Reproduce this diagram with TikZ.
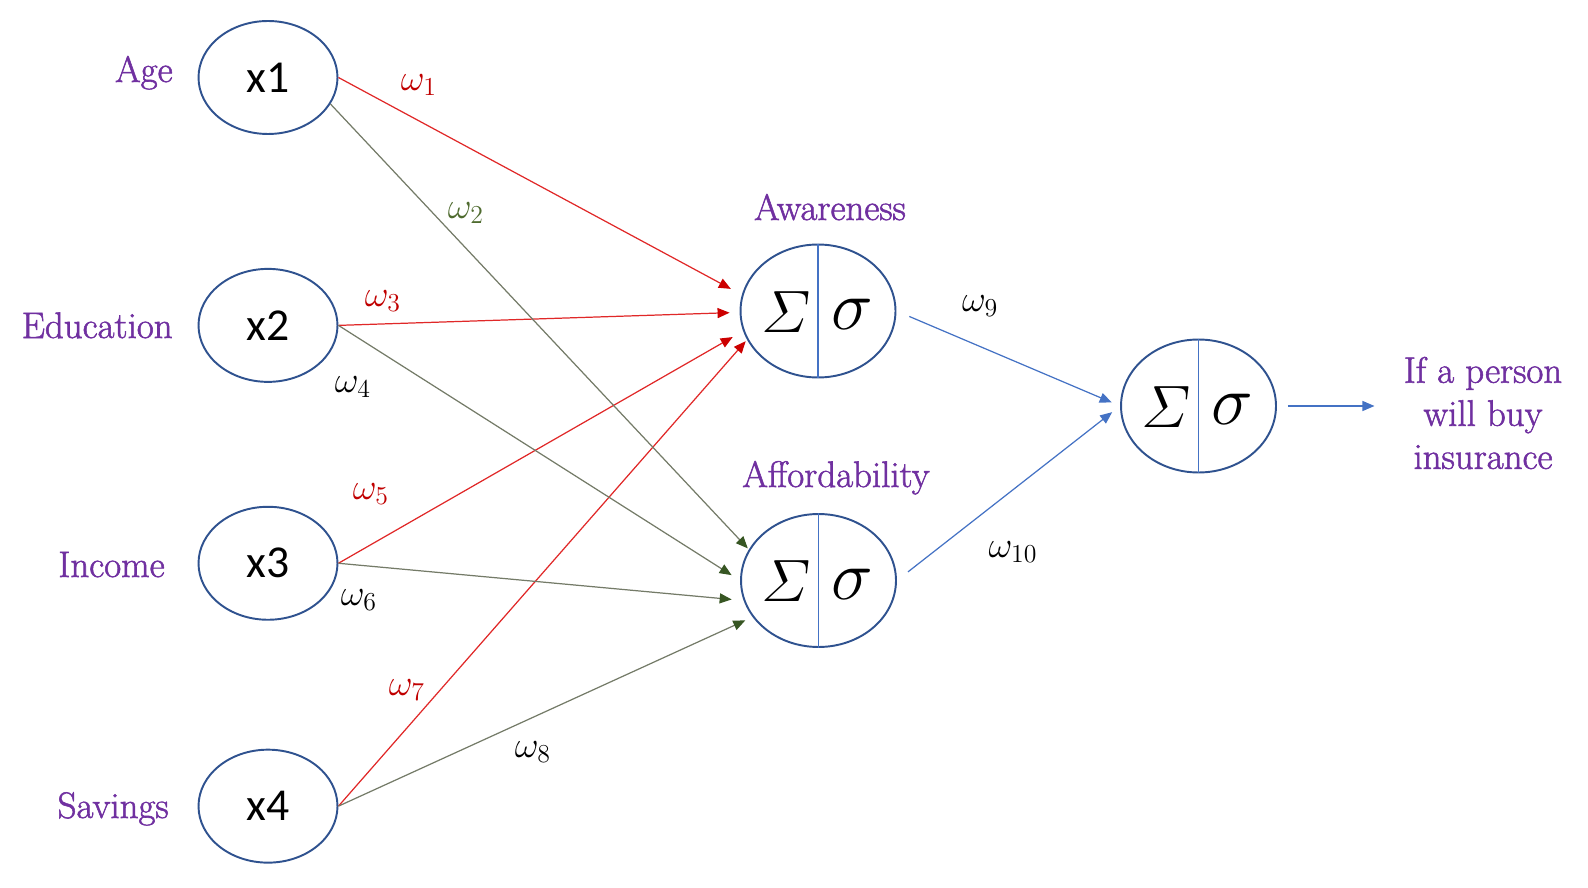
\RequirePackage{fix-cm}
\documentclass[tikz,border=0pt]{standalone}
\usepackage{amsmath}
\usepackage{fontspec}
\newfontfamily\inputfont{Carlito}
\newfontfamily\featfont{Latin Modern Roman}[FakeBold=1.5]
\usepackage{tikz}
\usetikzlibrary{shapes,arrows.meta,positioning}
\usepackage{xcolor}

\definecolor{featpurple}{HTML}{7030A0}
\definecolor{nodeblue}{HTML}{2F528F}
\definecolor{lineblue}{HTML}{4472C4}
\definecolor{wred}{HTML}{E02828}
\definecolor{wredtip}{HTML}{CC0000}
\definecolor{wredlbl}{HTML}{C00000}
\definecolor{wgray}{HTML}{747B68}
\definecolor{wgreentip}{HTML}{375623}
\definecolor{wgreenlbl}{HTML}{4F6B2F}

\begin{document}
\begin{tikzpicture}[
    x=0.02cm, y=-0.02cm,
    inputnode/.style={ellipse, draw=nodeblue, line width=1.1pt, minimum width=2.78cm, minimum height=2.26cm, inner sep=0pt, font=\inputfont\fontsize{26}{30}\selectfont},
    neuron/.style={ellipse, draw=nodeblue, line width=1.1pt, minimum width=3.1cm, minimum height=2.66cm, inner sep=0pt},
    sumsym/.style={inner sep=0pt, xshift=-0.64cm, yshift=-0.02cm, font=\fontsize{34}{40}\selectfont},
    actsym/.style={inner sep=0pt, xshift=0.68cm, yshift=-0.07cm, font=\fontsize{40}{46}\selectfont},
    divider/.style={draw=lineblue, line width=0.7pt},
    feature/.style={text=featpurple, inner sep=0pt, font=\featfont\fontsize{21}{24.5}\selectfont},
    weight/.style={inner sep=0pt, font=\fontsize{21}{25}\selectfont},
    redline/.style={draw=wred, line width=0.7pt, -{Triangle[length=0.24cm, width=0.2cm, color=wredtip]}},
    grayline/.style={draw=wgray, line width=0.7pt, -{Triangle[length=0.24cm, width=0.2cm, color=wgreentip]}},
    blueline/.style={draw=lineblue, line width=0.7pt, -{Triangle[length=0.24cm, width=0.2cm]}}
]
\useasboundingbox (0,0) rectangle (1588,888);

% Input nodes
\node (x1) [inputnode] at (268,77.5) {x1};
\node (x2) [inputnode, below=2.66cm of x1] {x2};
\node (x3) [inputnode, below=2.46cm of x2] {x3};
\node (x4) [inputnode, below=2.56cm of x3] {x4};

% Input labels
\node (age) [feature, anchor=base east] at (173,82) {Age};
\node (edu) [feature, anchor=base east] at (173,338) {Education};
\node (inc) [feature, anchor=base east] at (165,577) {Income};
\node (sav) [feature, anchor=base east] at (169,818) {Savings};

% Hidden neurons and output neuron
\node (aw) [neuron] at (818,311) {};
\node (af) [neuron] at (818.5,580.5) {};
\node (out) [neuron] at (1198.5,406) {};

\draw[divider] (aw.north) -- (aw.south);
\node (aw-sum) [sumsym] at (aw) {$\varSigma$};
\node (aw-act) [actsym] at (aw) {$\sigma$};
\draw[divider] (af.north) -- (af.south);
\node (af-sum) [sumsym] at (af) {$\varSigma$};
\node (af-act) [actsym] at (af) {$\sigma$};
\draw[divider] (out.north) -- (out.south);
\node (out-sum) [sumsym] at (out) {$\varSigma$};
\node (out-act) [actsym] at (out) {$\sigma$};

\node (awlabel) [feature, anchor=base] at (830,220) {Awareness};
\node (aflabel) [feature, anchor=base] at (836,487) {Affordability};
\node (res) [feature, align=center] at (1483,413) {If a person\\will buy\\insurance};

% Connections to Awareness
\draw[redline, shorten >=0.25cm] (x1.east) -- (aw.168.5);
\draw[redline, shorten >=0.2cm] (x2.east) -- (aw.181.5);
\draw[redline, shorten >=0.24cm] (x3.east) -- (aw.195);
\draw[redline, shorten >=0.04cm] (x4.east) -- (aw.202.6);

% Connections to Affordability
\draw[grayline, shorten >=0.03cm] (x1.337) -- (af.156.6);
\draw[grayline, shorten >=0.2cm] (x2.east) -- (af.180);
\draw[grayline, shorten >=0.24cm] (x3.east) -- (af.195.6);
\draw[grayline, shorten >=0.16cm] (x4.east) -- (af.209);

% Connections to the output
\draw[blueline, shorten <=0.28cm, shorten >=0.18cm] (aw.east) -- (out.west);
\draw[blueline, shorten <=0.28cm, shorten >=0.2cm] (af.east) -- (out.west);
\draw[blueline, shorten <=0.22cm, shorten >=0.58cm] (out.east) -- (out.east -| res.west);

% Weights
\node (w1) [weight, text=wredlbl] at (419,85) {$\omega_1$};
\node (w2) [weight, text=wgreenlbl] at (466,213) {$\omega_2$};
\node (w3) [weight, text=wredlbl] at (383,301) {$\omega_3$};
\node (w4) [weight] at (353,387) {$\omega_4$};
\node (w5) [weight, text=wredlbl] at (371,494) {$\omega_5$};
\node (w6) [weight] at (359,600) {$\omega_6$};
\node (w7) [weight, text=wredlbl] at (407,690) {$\omega_7$};
\node (w8) [weight] at (533,752) {$\omega_8$};
\node (w9) [weight] at (980,306) {$\omega_9$};
\node (w10) [weight] at (1013,552) {$\omega_{10}$};

\end{tikzpicture}
\end{document}
